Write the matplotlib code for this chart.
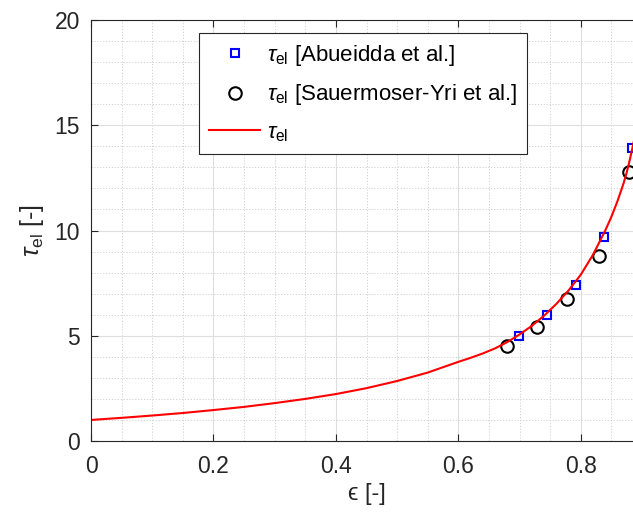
import numpy as np
import matplotlib.pyplot as plt
from matplotlib.ticker import MultipleLocator

plt.rcParams['font.family'] = ['Liberation Sans', 'DejaVu Sans']
plt.rcParams['mathtext.fontset'] = 'custom'
plt.rcParams['mathtext.rm'] = 'Liberation Sans'
plt.rcParams['mathtext.it'] = 'Liberation Sans:italic'
plt.rcParams['mathtext.sf'] = 'Liberation Sans'

# Abueidda et al.
eps_a = np.array([0.699, 0.745, 0.792, 0.838, 0.883])
tau_a = np.array([5.0, 5.99, 7.41, 9.69, 13.9])

# Sauermoser-Yri et al.
eps_s = np.array([0.679, 0.729, 0.778, 0.829, 0.878])
tau_s = np.array([4.53, 5.42, 6.73, 8.80, 12.79])

# model curve
eps_m = np.array([0.0, 0.05, 0.1, 0.15, 0.2, 0.25, 0.3, 0.35, 0.4, 0.45, 0.5,
                  0.55, 0.6, 0.62, 0.64, 0.66, 0.68, 0.70, 0.72, 0.74, 0.76,
                  0.78, 0.80, 0.82, 0.84, 0.85, 0.86, 0.87, 0.875, 0.88, 0.885,
                  0.89, 0.895, 0.90])
tau_m = np.array([1.00, 1.10, 1.21, 1.33, 1.47, 1.62, 1.80, 2.00, 2.23, 2.51, 2.85,
                  3.25, 3.76, 3.95, 4.16, 4.40, 4.70, 5.06, 5.47, 5.95, 6.51,
                  7.15, 7.90, 8.85, 10.00, 10.65, 11.40, 12.25, 12.75, 13.35, 14.00,
                  14.70, 15.50, 16.30])

fig = plt.figure(figsize=(6.33, 5.13), dpi=100)
ax = fig.add_axes([91/633, 72/513, 551/633, 421/513])

ax.plot(eps_a, tau_a, 's', mfc='none', mec='b', mew=1.5, ms=6,
        label=r'$\tau_{\mathsf{el}}$ [Abueidda et al.]', clip_on=False)
ax.plot(eps_s, tau_s, 'o', mfc='none', mec='k', mew=1.5, ms=9,
        label=r'$\tau_{\mathsf{el}}$ [Sauermoser-Yri et al.]')
ax.plot(eps_m, tau_m, 'r-', lw=1.5, label=r'$\tau_{\mathsf{el}}$')

ax.set_xlim(0, 0.9)
ax.set_ylim(0, 20)
ax.xaxis.set_minor_locator(MultipleLocator(0.05))
ax.yaxis.set_major_locator(MultipleLocator(5))
ax.yaxis.set_minor_locator(MultipleLocator(1))
ax.set_xticks([0, 0.2, 0.4, 0.6, 0.8])
ax.set_xticklabels(['0', '0.2', '0.4', '0.6', '0.8'])

ax.grid(which='major', color='#dedede', lw=0.8)
ax.grid(which='minor', color='#cccccc', lw=0.6, ls=(0, (1.5, 2)))
ax.set_axisbelow(True)
ax.tick_params(which='both', direction='in', top=True, right=True,
               labelsize=16.5, colors='#262626')
ax.tick_params(which='major', length=5)
ax.tick_params(which='minor', length=0)
ax.tick_params(axis='x', pad=10)
ax.tick_params(axis='y', pad=8)
for s in ax.spines.values():
    s.set_color('#262626')
    s.set_linewidth(0.8)

ax.set_xlabel('ϵ [-]', fontsize=17, color='#262626', labelpad=4)
ax.set_ylabel(r'$\tau_{\mathsf{el}}$ [-]', fontsize=18, color='#262626', labelpad=6)

leg = ax.legend(loc='upper left', bbox_to_anchor=(0.196, 0.969), fontsize=16,
                fancybox=False, framealpha=1, edgecolor='#262626',
                handlelength=2.3, handletextpad=0.3, borderpad=0.45,
                labelspacing=0.65, borderaxespad=0)
leg.get_frame().set_linewidth(0.8)

fig.savefig('out.png', dpi=100)
